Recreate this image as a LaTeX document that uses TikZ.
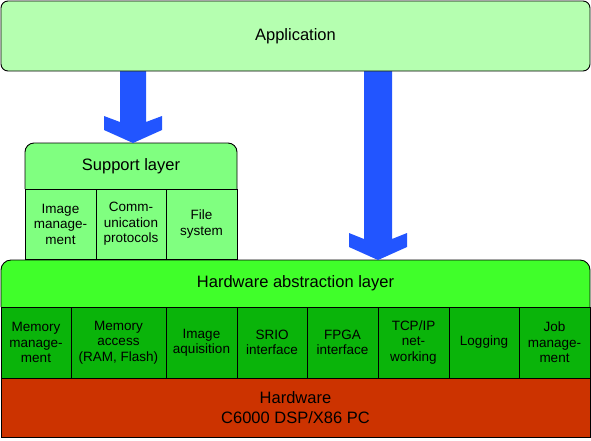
\documentclass[tikz,border=0pt]{standalone}
\usepackage{fontspec}
\setmainfont{Liberation Sans}
\usetikzlibrary{calc,backgrounds}
\definecolor{appgreen}{RGB}{181,255,176}
\definecolor{supgreen}{RGB}{128,255,128}
\definecolor{halgreen}{RGB}{64,255,42}
\definecolor{cellgreen}{RGB}{10,180,10}
\definecolor{hwred}{RGB}{204,51,0}
\definecolor{arrowblue}{RGB}{34,85,255}
\newcommand\blockarrow[3]{%
  \fill[arrowblue] let \p1=#1, \p2=#2 in
   (\x1-#3,\y1) -- (\x1-#3,\y2+21pt) -- (\x1-29pt,\y2+27pt) -- (\x1-29pt,\y2+13pt)
   -- (\x1,\y2) -- (\x1+29pt,\y2+13pt) -- (\x1+29pt,\y2+27pt) -- (\x1+#3,\y2+21pt)
   -- (\x1+#3,\y1) -- cycle;}
\begin{document}
\begin{tikzpicture}[x=1pt,y=-1pt,
  lw/.style={line width=0.9pt},
  sz/.style 2 args={minimum width=#1pt, minimum height=#2pt},
  region/.style={inner sep=0pt, outer sep=0pt, anchor=center},
  titletext/.style={font=\fontsize{16.5}{20}\selectfont, align=center},
  celltext/.style={font=\fontsize{13.5}{15.5}\selectfont, align=center},
  supcell/.style={region, lw, draw=black, fill=supgreen, celltext},
  halcell/.style={region, lw, draw=black, fill=cellgreen, celltext}]
\useasboundingbox (0,0) rectangle (591,440);

% Application
\node[region, lw, draw=black, fill=appgreen, rounded corners=7pt, titletext, sz={589}{70}] (app) at (295.5,36) {Application};

% Support layer
\node[region, titletext, sz={212}{46}] (sl) at (131,166) {Support layer};
\node[supcell, sz={71}{70}] (s1) at (60.5,224) {Image\\manage-\\ment};
\node[supcell, sz={70}{70}] (s2) at (131,224) {Comm-\\unication\\protocols};
\node[supcell, sz={71}{70}] (s3) at (201.5,224) {File\\system};

% Hardware abstraction layer
\node[region, titletext, sz={589}{47}] (hal) at (295.5,283.5) {Hardware abstraction layer};
\node[halcell, sz={70}{71}] (h1) at (36,342.5) {Memory\\manage-\\ment};
\node[halcell, sz={95}{71}] (h2) at (118.5,342.5) {Memory\\access\\(RAM, Flash)};
\node[halcell, sz={71}{71}] (h3) at (201.5,342.5) {Image\\aquisition};
\node[halcell, sz={70}{71}] (h4) at (272,342.5) {SRIO\\interface};
\node[halcell, sz={71}{71}] (h5) at (342.5,342.5) {FPGA\\interface};
\node[halcell, sz={71}{71}] (h6) at (413.5,342.5) {TCP/IP\\net-\\working};
\node[halcell, sz={70}{71}] (h7) at (484,342.5) {Logging};
\node[halcell, sz={71}{71}] (h8) at (554.5,342.5) {Job\\manage-\\ment};

% Hardware
\node[region, lw, draw=black, fill=hwred, titletext, font=\fontsize{16.5}{20.5}\selectfont, sz={589}{59}] (hw) at (295.5,407.5) {Hardware\\C6000 DSP/X86 PC};

\coordinate (la) at (133,0);
\coordinate (ra) at (378,0);

\begin{scope}[on background layer]
  \fill[supgreen, rounded corners=9pt] (sl.north west) rectangle (s3.south east);
  \draw[lw, rounded corners=9pt] (sl.south west) -- (sl.north west) -- (sl.north east) -- (sl.south east);
  \fill[halgreen, rounded corners=10pt] (hal.north west) rectangle (h8.south east);
  \draw[lw, rounded corners=10pt] (hal.south west) -- (hal.north west) -- (hal.north east) -- (hal.south east);
  \blockarrow{(la |- app.south)}{(la |- sl.north)}{13pt}
  \blockarrow{(ra |- app.south)}{(ra |- hal.north)}{14pt}
\end{scope}
\end{tikzpicture}
\end{document}
